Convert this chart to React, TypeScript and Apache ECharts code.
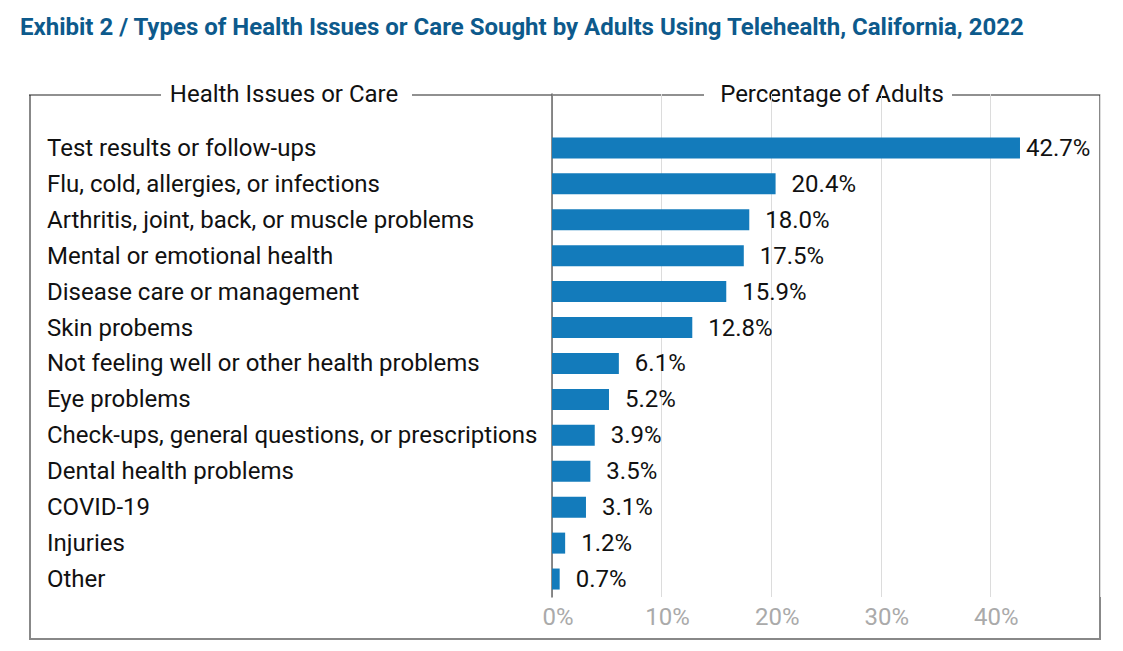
import React, { useEffect, useRef } from "react";
import * as echarts from "echarts";

const TITLE = "Exhibit 2 / Types of Health Issues or Care Sought by Adults Using Telehealth, California, 2022";
const HEADER_LEFT = "Health Issues or Care";
const HEADER_RIGHT = "Percentage of Adults";

const categories = [
  "Test results or follow-ups",
  "Flu, cold, allergies, or infections",
  "Arthritis, joint, back, or muscle problems",
  "Mental or emotional health",
  "Disease care or management",
  "Skin probems",
  "Not feeling well or other health problems",
  "Eye problems",
  "Check-ups, general questions, or prescriptions",
  "Dental health problems",
  "COVID-19",
  "Injuries",
  "Other",
];
const values = [42.7, 20.4, 18.0, 17.5, 15.9, 12.8, 6.1, 5.2, 3.9, 3.5, 3.1, 1.2, 0.7];
const xTicks = [0, 10, 20, 30, 40];
const X_MAX = 50;

const FONT = "Roboto, 'Noto Sans', sans-serif";
const FS = 24;

export default function App() {
  const ref = useRef<HTMLDivElement>(null);
  useEffect(() => {
    if (!ref.current) return;
    const chart = echarts.init(ref.current, null, { renderer: "svg" });
    const catsBottomUp = [...categories].reverse();
    const valsBottomUp = [...values].reverse();
    const n = catsBottomUp.length;
    const borderColor = "#888";
    const topColor = "#222";
    chart.setOption({
      animation: false,
      textStyle: { fontFamily: FONT },
      title: {
        text: TITLE,
        left: 15,
        top: 10,
        textStyle: { fontFamily: FONT, fontSize: 24, fontWeight: "bold", color: "#0d5a8c" },
      },
      grid: { left: 552, right: 23, top: 94, bottom: 54, containLabel: false },
      xAxis: {
        type: "value",
        min: 0,
        max: X_MAX,
        interval: 10,
        axisLine: { show: false },
        axisTick: { show: false },
        splitLine: { show: true, lineStyle: { color: "#dcdcdc", width: 1 } },
        axisLabel: {
          fontFamily: FONT,
          fontSize: FS,
          color: "#aaaaaa",
          margin: 8,
          padding: [0, 0, 0, 12],
          formatter: (v: number) => (xTicks.includes(v) ? `${v}%` : ""),
        },
      },
      yAxis: {
        type: "category",
        data: catsBottomUp,
        max: n,
        axisLine: { show: true, lineStyle: { color: "#666", width: 1.5 } },
        axisTick: { show: false },
        splitLine: { show: false },
        axisLabel: {
          fontFamily: FONT,
          fontSize: FS,
          color: "#111",
          align: "left",
          margin: 505,
          formatter: (v: string) => (categories.includes(v) ? v : ""),
        },
      },
      series: [
        {
          type: "bar",
          barWidth: 21,
          itemStyle: { color: "#137bbb" },
          data: valsBottomUp.map((v, i) => ({
            value: v,
            label: { distance: i === n - 1 ? 6 : 16 },
          })),
          label: {
            show: true,
            position: "right",
            fontFamily: FONT,
            fontSize: FS,
            color: "#111",
            formatter: (p: any) => `${Number(p.value).toFixed(1)}%`,
          },
        },
      ],
      graphic: [
        { type: "line", shape: { x1: 30, y1: 95, x2: 30, y2: 639 }, style: { stroke: borderColor, lineWidth: 2 } },
        { type: "line", shape: { x1: 1100, y1: 95, x2: 1100, y2: 639 }, style: { stroke: borderColor, lineWidth: 2 } },
        { type: "line", shape: { x1: 29, y1: 639, x2: 1101, y2: 639 }, style: { stroke: borderColor, lineWidth: 2 } },
        { type: "line", shape: { x1: 29, y1: 95, x2: 161, y2: 95 }, style: { stroke: topColor, lineWidth: 1.2 } },
        { type: "line", shape: { x1: 412, y1: 95, x2: 704, y2: 95 }, style: { stroke: topColor, lineWidth: 1.2 } },
        { type: "line", shape: { x1: 952, y1: 95, x2: 1101, y2: 95 }, style: { stroke: topColor, lineWidth: 1.2 } },
        {
          type: "text",
          x: 284,
          y: 94,
          style: {
            text: HEADER_LEFT,
            fontFamily: FONT,
            fontSize: FS,
            fill: "#111",
            align: "center",
            verticalAlign: "middle",
          },
        },
        {
          type: "text",
          x: 832,
          y: 94,
          style: {
            text: HEADER_RIGHT,
            fontFamily: FONT,
            fontSize: FS,
            fill: "#111",
            align: "center",
            verticalAlign: "middle",
          },
        },
      ],
    });
    return () => chart.dispose();
  }, []);
  return (
    <div
      ref={ref}
      style={{ position: "absolute", left: 0, top: 0, width: 1123, height: 651, background: "#fff" }}
    />
  );
}
